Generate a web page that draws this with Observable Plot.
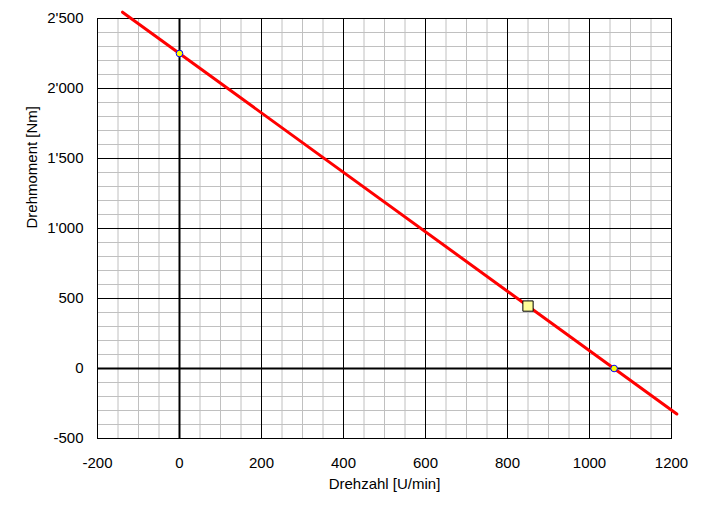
<!DOCTYPE html>
<html>
<head>
<meta charset="utf-8">
<script src="https://cdn.jsdelivr.net/npm/d3@7"></script>
<script src="https://cdn.jsdelivr.net/npm/@observablehq/plot@0.6"></script>
<style>
  html, body { margin: 0; padding: 0; background: #fff; }
</style>
</head>
<body>
<div id="chart"></div>
<script>
// Axis ticks
const xTicks = [-200, 0, 200, 400, 600, 800, 1000, 1200];
const yTicks = [-500, 0, 500, 1000, 1500, 2000, 2500];
const xMinorStep = 50;
const yMinorStep = 100;

// Characteristic line (Drehzahl vs Drehmoment)
const lineX = [-139, 1213];
const lineY = [2545, -325];

// Intercept points (circles)
const pointX = [0, 1060];
const pointY = [2250, 0];

// Operating point (square)
const opX = [850];
const opY = [446];

const xLabel = "Drehzahl [U/min]";
const yLabel = "Drehmoment [Nm]";

const lineData = lineX.map((x, i) => ({x, y: lineY[i]}));
const pointData = pointX.map((x, i) => ({x, y: pointY[i]}));
const opData = opX.map((x, i) => ({x, y: opY[i]}));

const xMinor = d3.range(-200, 1200 + 1, xMinorStep);
const yMinor = d3.range(-500, 2500 + 1, yMinorStep);

const fmt = d3.formatLocale({decimal: ".", thousands: "'", grouping: [3], currency: ["", ""], minus: "-"}).format(",");

const chart = Plot.plot({
  width: 707,
  height: 516,
  marginLeft: 97,
  marginRight: 36,
  marginTop: 18,
  marginBottom: 78,
  style: {fontFamily: "'Liberation Sans', Arial, sans-serif", fontSize: "15px", color: "black", background: "white"},
  x: {domain: [-200, 1200]},
  y: {domain: [-500, 2500]},
  marks: [
    Plot.ruleX(xMinor, {stroke: "#c0c0c0", strokeWidth: 1}),
    Plot.ruleY(yMinor, {stroke: "#c0c0c0", strokeWidth: 1}),
    Plot.ruleX(xTicks, {stroke: "black", strokeWidth: 1}),
    Plot.ruleY(yTicks, {stroke: "black", strokeWidth: 1}),
    Plot.ruleX([0], {stroke: "black", strokeWidth: 2}),
    Plot.ruleY([0], {stroke: "black", strokeWidth: 2}),
    Plot.frame({stroke: "black", strokeWidth: 1}),
    Plot.axisX({ticks: xTicks, tickSize: 0, tickPadding: 19, tickFormat: d => String(d), label: null, fontSize: 15}),
    Plot.axisY({ticks: yTicks, tickSize: 0, tickPadding: 14, tickFormat: fmt, label: null, fontSize: 15}),
    Plot.text([xLabel], {frameAnchor: "bottom", text: d => d, dy: 50, fill: "black", fontSize: 15}),
    Plot.text([yLabel], {frameAnchor: "left", text: d => d, rotate: -90, dx: -65, fill: "black", fontSize: 15}),
    Plot.line(lineData, {x: "x", y: "y", stroke: "#ff0000", strokeWidth: 3, clip: false}),
    Plot.dot(pointData, {x: "x", y: "y", r: 3.3, fill: "#ffff00", stroke: "#0000ff", strokeWidth: 1}),
    Plot.dot(opData, {x: "x", y: "y", symbol: "square", r: 5.8, fill: "#ffff99", stroke: "black", strokeWidth: 1})
  ]
});
document.getElementById("chart").appendChild(chart);
</script>
</body>
</html>
